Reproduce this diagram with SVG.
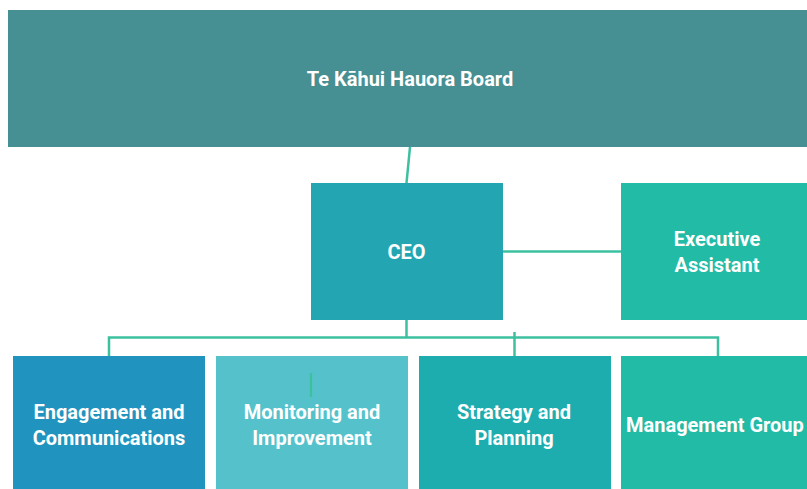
<svg xmlns="http://www.w3.org/2000/svg" width="807" height="489" viewBox="0 0 807 489">
<style>
.t{font-family:"Liberation Sans Narrow","Roboto","Liberation Sans",sans-serif;font-size:20px;font-weight:bold;fill:#ffffff;text-anchor:middle;dominant-baseline:central}
.c{stroke:#3cc0a0;stroke-width:2.5;fill:none}
</style>
<rect width="807" height="489" fill="#ffffff"/>
<g id="connectors">
<line class="c" x1="410" y1="147" x2="406.5" y2="183"/>
<line class="c" x1="503" y1="251.5" x2="621" y2="251.5"/>
<polyline class="c" points="406.5,320 406.5,337.5"/>
<polyline class="c" points="109,356 109,337.5 718,337.5 718,356"/>
<line class="c" x1="514.5" y1="332" x2="514.5" y2="356"/>
</g>
<g id="board"><rect x="8" y="10" width="799" height="137" fill="#468f93"/><text class="t" x="410" y="79">Te Kāhui Hauora Board</text></g>
<g id="ceo"><rect x="311" y="183" width="192" height="137" fill="#23a6b2"/><text class="t" x="406.5" y="252">CEO</text></g>
<g id="ea"><rect x="621" y="183" width="186" height="137" fill="#22bba6"/><text class="t" x="717" y="239">Executive</text><text class="t" x="717" y="265">Assistant</text></g>
<g id="eng"><rect x="13" y="356" width="192" height="133" fill="#2094be"/><text class="t" x="109" y="412">Engagement and</text><text class="t" x="109" y="438">Communications</text></g>
<g id="mon"><rect x="216" y="356" width="192" height="133" fill="#55c2cb"/><line class="c" x1="311" y1="373" x2="311" y2="397"/><text class="t" x="312" y="412">Monitoring and</text><text class="t" x="312" y="438">Improvement</text></g>
<g id="str"><rect x="419" y="356" width="192" height="133" fill="#1eadaf"/><text class="t" x="514" y="412">Strategy and</text><text class="t" x="514" y="438">Planning</text></g>
<g id="mgmt"><rect x="621" y="356" width="186" height="133" fill="#22bba6"/><text class="t" x="626" y="425" style="text-anchor:start">Management Group</text></g>
</svg>
